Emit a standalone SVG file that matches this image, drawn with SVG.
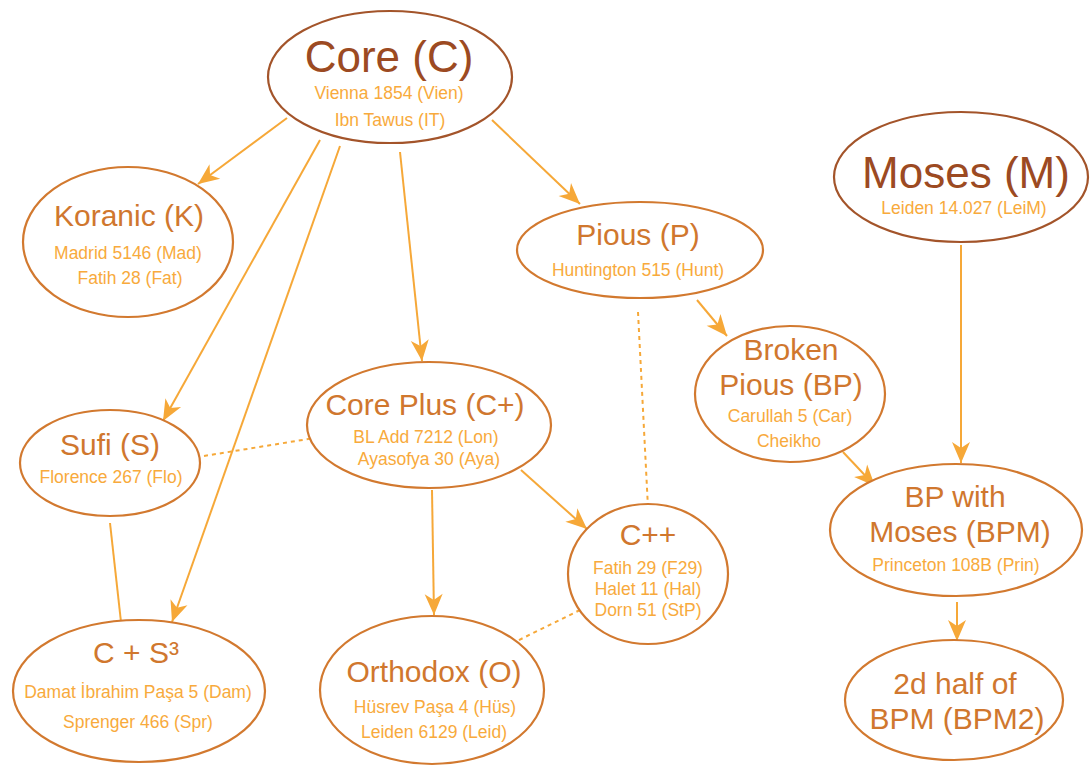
<svg xmlns="http://www.w3.org/2000/svg" width="1090" height="766" viewBox="0 0 1090 766">
<style>
  text { font-family: "Liberation Sans", Arial, sans-serif; text-anchor: middle; }
  .big { font-size: 44px; fill: #9c4a22; }
  .mid { font-size: 30px; fill: #d0772e; }
  .sub { font-size: 17.5px; fill: #f8aa3c; }
  .e1 { fill: #ffffff; stroke: #a3542a; stroke-width: 2.2; }
  .e2 { fill: #ffffff; stroke: #d2792f; stroke-width: 2.2; }
  .c { stroke: #f6a838; stroke-width: 2; fill: none; }
  .a { marker-end: url(#ah); }
  .d { stroke-dasharray: 4 4; }
  .dd { stroke-dasharray: 2 3; }
</style>
<defs>
  <marker id="ah" markerUnits="userSpaceOnUse" markerWidth="24" markerHeight="20" viewBox="-22 -10 24 20" refX="0" refY="0" orient="auto">
    <path d="M0,0 L-21,-9 L-15,0 L-21,9 Z" fill="#f6a838"/>
  </marker>
</defs>
<rect width="1090" height="766" fill="#ffffff"/>
<g id="connectors">
  <line class="c a" x1="287" y1="118" x2="198" y2="184"/>
  <line class="c a" x1="320" y1="140" x2="163" y2="421"/>
  <line class="c a" x1="340" y1="146" x2="172" y2="622"/>
  <line class="c a" x1="400" y1="152" x2="422" y2="361"/>
  <line class="c a" x1="492" y1="120" x2="580" y2="204"/>
  <line class="c a" x1="697" y1="300" x2="727" y2="336"/>
  <line class="c d" x1="638" y1="312" x2="648" y2="508"/>
  <line class="c a" x1="843" y1="452" x2="875" y2="486"/>
  <line class="c a" x1="961" y1="245" x2="961" y2="463"/>
  <line class="c a" x1="957" y1="602" x2="957" y2="641"/>
  <line class="c a" x1="521" y1="470" x2="587" y2="529"/>
  <line class="c a" x1="432" y1="490" x2="434" y2="615"/>
  <line class="c d" x1="204" y1="456" x2="345" y2="433"/>
  <line class="c" x1="110" y1="523" x2="121" y2="622"/>
  <line class="c d" x1="580" y1="610" x2="517" y2="641"/>
  <path class="c dd" d="M592,567 C577,569 577,588 592,590"/>
</g>
<g id="core">
  <ellipse class="e1" cx="390" cy="77" rx="122" ry="66"/>
  <text class="big" x="389" y="72">Core (C)</text>
  <text class="sub" x="389" y="99">Vienna 1854 (Vien)</text>
  <text class="sub" x="390" y="126">Ibn Tawus (IT)</text>
</g>
<g id="koranic">
  <ellipse class="e2" cx="128" cy="242" rx="105" ry="75"/>
  <text class="mid" x="129" y="226">Koranic (K)</text>
  <text class="sub" x="128" y="259">Madrid 5146 (Mad)</text>
  <text class="sub" x="130" y="284">Fatih 28 (Fat)</text>
</g>
<g id="pious">
  <ellipse class="e2" cx="640" cy="250" rx="123" ry="48"/>
  <text class="mid" x="638" y="245">Pious (P)</text>
  <text class="sub" x="638" y="276">Huntington 515 (Hunt)</text>
</g>
<g id="moses">
  <ellipse class="e1" cx="961" cy="177" rx="127" ry="65"/>
  <text class="big" x="966" y="188">Moses (M)</text>
  <text class="sub" x="964" y="214">Leiden 14.027 (LeiM)</text>
</g>
<g id="brokenpious">
  <ellipse class="e2" cx="790" cy="394" rx="95" ry="68"/>
  <text class="mid" x="791" y="360">Broken</text>
  <text class="mid" x="791" y="395">Pious (BP)</text>
  <text class="sub" x="790" y="422">Carullah 5 (Car)</text>
  <text class="sub" x="789" y="447">Cheikho</text>
</g>
<g id="coreplus">
  <ellipse class="e2" cx="429" cy="425" rx="122" ry="63"/>
  <text class="mid" x="425" y="415">Core Plus (C+)</text>
  <text class="sub" x="426" y="443">BL Add 7212 (Lon)</text>
  <text class="sub" x="429" y="465">Ayasofya 30 (Aya)</text>
</g>
<g id="sufi">
  <ellipse class="e2" cx="110" cy="463" rx="90" ry="53"/>
  <text class="mid" x="110" y="455">Sufi (S)</text>
  <text class="sub" x="111" y="483">Florence 267 (Flo)</text>
</g>
<g id="cpp">
  <ellipse class="e2" cx="648" cy="574" rx="80" ry="70"/>
  <text class="mid" x="648" y="545">C++</text>
  <text class="sub" x="648" y="574">Fatih 29 (F29)</text>
  <text class="sub" x="648" y="595">Halet 11 (Hal)</text>
  <text class="sub" x="648" y="616">Dorn 51 (StP)</text>
</g>
<g id="bpm">
  <ellipse class="e2" cx="956" cy="530" rx="126" ry="66"/>
  <text class="mid" x="955" y="507">BP with</text>
  <text class="mid" x="960" y="542">Moses (BPM)</text>
  <text class="sub" x="956" y="571">Princeton 108B (Prin)</text>
</g>
<g id="cs3">
  <ellipse class="e2" cx="139" cy="691" rx="126" ry="71"/>
  <text class="mid" x="136" y="663">C + S³</text>
  <text class="sub" x="138" y="698">Damat İbrahim Paşa 5 (Dam)</text>
  <text class="sub" x="138" y="728">Sprenger 466 (Spr)</text>
</g>
<g id="orthodox">
  <ellipse class="e2" cx="432" cy="690" rx="112" ry="74"/>
  <text class="mid" x="434" y="682">Orthodox (O)</text>
  <text class="sub" x="435" y="713">Hüsrev Paşa 4 (Hüs)</text>
  <text class="sub" x="434" y="738">Leiden 6129 (Leid)</text>
</g>
<g id="bpm2">
  <ellipse class="e2" cx="954" cy="700" rx="109" ry="60"/>
  <text class="mid" x="955" y="694">2d half of</text>
  <text class="mid" x="957" y="729">BPM (BPM2)</text>
</g>
</svg>
